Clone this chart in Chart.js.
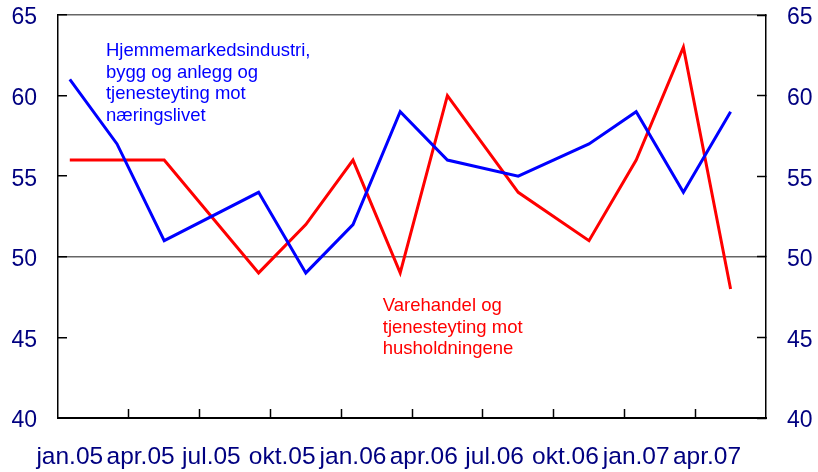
<!DOCTYPE html>
<html lang="no">
<head>
    <meta charset="UTF-8">
    <title>Indikatorer</title>
    <script src="https://cdn.jsdelivr.net/npm/chart.js"></script>
    <style>
        body {
            margin: 0;
            background: #fff;
        }
    </style>
</head>
<body>
    <canvas id="chart" width="818" height="472"></canvas>

    <script>
        // månedlige kategorier jan.05 - jun.07, verdier kun der det er målinger
        const months = [
            "jan.05", "feb.05", "mar.05", "apr.05", "mai.05", "jun.05",
            "jul.05", "aug.05", "sep.05", "okt.05", "nov.05", "des.05",
            "jan.06", "feb.06", "mar.06", "apr.06", "mai.06", "jun.06",
            "jul.06", "aug.06", "sep.06", "okt.06", "nov.06", "des.06",
            "jan.07", "feb.07", "mar.07", "apr.07", "mai.07", "jun.07"
        ];

        const naering = [61, null, 57, null, 51, null, null, null, 54, null, 49, null,
                         52, null, 59, null, 56, null, null, 55, null, null, 57, null,
                         59, null, 54, null, 59, null];

        const husholdning = [56, null, 56, null, 56, null, null, null, 49, null, 52, null,
                             56, null, 49, null, 60, null, null, 54, null, null, 51, null,
                             56, null, 63, null, 48, null];

        const yTicks = [40, 45, 50, 55, 60, 65];

        const navy = "#000080";
        const font = "'Liberation Sans', Arial, sans-serif";

        // tekst i diagrammet
        const notes = [
            { lines: ["Hjemmemarkedsindustri,", "bygg og anlegg og", "tjenesteyting mot", "næringslivet"],
              x: 1.53, y: 62.46, color: "#0000ff" },
            { lines: ["Varehandel og", "tjenesteyting mot", "husholdningene"],
              x: 13.26, y: 46.64, color: "#ff0000" }
        ];

        const notePlugin = {
            id: "notes",
            afterDatasetsDraw(chart) {
                const ctx = chart.ctx;
                const xs = chart.scales.x;
                const ys = chart.scales.y;
                ctx.save();
                ctx.font = "18.5px " + font;
                ctx.textBaseline = "alphabetic";
                ctx.textAlign = "left";
                notes.forEach(n => {
                    ctx.fillStyle = n.color;
                    const px = xs.getPixelForValue(n.x);
                    const py = ys.getPixelForValue(n.y);
                    n.lines.forEach((l, i) => ctx.fillText(l, px, py + i * 21.7));
                });
                ctx.restore();
            }
        };

        // fast størrelse på aksene, uten ekstra luft rundt etikettene
        const fixSize = (w, h) => s => {
            s.paddingTop = s.paddingBottom = s.paddingLeft = s.paddingRight = 0;
            if (w) s.width = w;
            if (h) s.height = h;
        };

        const yGrid = {
            tickLength: -9,
            tickColor: "#000",
            tickWidth: 1.5
        };

        new Chart(document.getElementById("chart"), {
            type: "line",
            data: {
                labels: months,
                datasets: [
                    {
                        label: "Hjemmemarkedsindustri, bygg og anlegg og tjenesteyting mot næringslivet",
                        data: naering,
                        borderColor: "#0000ff",
                        borderWidth: 3,
                        pointRadius: 0,
                        tension: 0,
                        spanGaps: true
                    },
                    {
                        label: "Varehandel og tjenesteyting mot husholdningene",
                        data: husholdning,
                        borderColor: "#ff0000",
                        borderWidth: 3,
                        pointRadius: 0,
                        tension: 0,
                        spanGaps: true
                    }
                ]
            },
            options: {
                responsive: false,
                animation: false,
                layout: { padding: { left: 0, right: 0, top: 15, bottom: 0 } },
                plugins: {
                    legend: { display: false },
                    tooltip: { enabled: false }
                },
                scales: {
                    x: {
                        type: "category",
                        offset: true,
                        afterFit: fixSize(0, 54),
                        grid: {
                            offset: true,
                            drawOnChartArea: false,
                            tickLength: -9,
                            tickWidth: 1.5,
                            tickColor: c => (c.index % 3 === 0 && c.index > 0) ? "#000" : "transparent"
                        },
                        border: { color: "#000", width: 2 },
                        ticks: {
                            autoSkip: false,
                            maxRotation: 0,
                            minRotation: 0,
                            padding: 34,
                            color: navy,
                            font: { family: font, size: 24.5 },
                            callback: (v, i) => i % 3 === 0 ? months[i] : ""
                        }
                    },
                    y: {
                        position: "left",
                        min: 40,
                        max: 65,
                        afterFit: fixSize(58, 0),
                        afterBuildTicks: s => { s.ticks = yTicks.map(v => ({ value: v })); },
                        grid: Object.assign({
                            color: c => (c.tick && (c.tick.value === 50 || c.tick.value === 65)) ? "#666" : "transparent",
                            lineWidth: 1.5
                        }, yGrid),
                        border: { color: "#000", width: 1.5 },
                        ticks: { padding: 30, labelOffset: 3, color: navy, font: { family: font, size: 23 } }
                    },
                    y1: {
                        display: true,
                        position: "right",
                        min: 40,
                        max: 65,
                        afterFit: fixSize(52, 0),
                        afterBuildTicks: s => { s.ticks = yTicks.map(v => ({ value: v })); },
                        grid: Object.assign({ drawOnChartArea: false }, yGrid),
                        border: { color: "#000", width: 1.5 },
                        ticks: { padding: 30, labelOffset: 3, color: navy, font: { family: font, size: 23 } }
                    }
                }
            },
            plugins: [notePlugin]
        });
    </script>
</body>
</html>
